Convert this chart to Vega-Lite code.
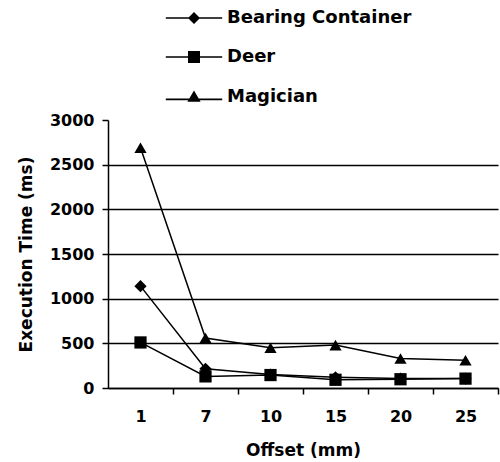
{
  "$schema": "https://vega.github.io/schema/vega-lite/v6.json",
  "width": 390,
  "height": 268,
  "autosize": {"type": "none"},
  "padding": {"left": 108, "top": 120, "right": 2, "bottom": 74},
  "background": "white",
  "config": {
    "view": {"stroke": null},
    "font": "DejaVu Sans",
    "axis": {
      "labelFont": "DejaVu Sans",
      "labelFontWeight": "bold",
      "labelFontSize": 16,
      "labelColor": "black",
      "titleFont": "DejaVu Sans",
      "titleFontWeight": "bold",
      "titleFontSize": 17,
      "titleColor": "black",
      "domainColor": "black",
      "domainWidth": 1.5,
      "tickColor": "black",
      "tickWidth": 1.5,
      "tickSize": 6
    }
  },
  "data": {
    "values": [
      {"offset": "1", "series": "Bearing Container", "time": 1140},
      {"offset": "7", "series": "Bearing Container", "time": 215},
      {"offset": "10", "series": "Bearing Container", "time": 150},
      {"offset": "15", "series": "Bearing Container", "time": 120},
      {"offset": "20", "series": "Bearing Container", "time": 105},
      {"offset": "25", "series": "Bearing Container", "time": 105},
      {"offset": "1", "series": "Deer", "time": 510},
      {"offset": "7", "series": "Deer", "time": 130},
      {"offset": "10", "series": "Deer", "time": 145},
      {"offset": "15", "series": "Deer", "time": 92},
      {"offset": "20", "series": "Deer", "time": 98},
      {"offset": "25", "series": "Deer", "time": 105},
      {"offset": "1", "series": "Magician", "time": 2690},
      {"offset": "7", "series": "Magician", "time": 560},
      {"offset": "10", "series": "Magician", "time": 450},
      {"offset": "15", "series": "Magician", "time": 480},
      {"offset": "20", "series": "Magician", "time": 330},
      {"offset": "25", "series": "Magician", "time": 310}
    ]
  },
  "encoding": {
    "x": {
      "field": "offset",
      "type": "ordinal",
      "sort": ["1", "7", "10", "15", "20", "25"],
      "scale": {"type": "point", "padding": 0.5},
      "title": "Offset (mm)",
      "axis": {
        "labelAngle": 0,
        "tickOffset": 32.5,
        "labelOffset": -32.5,
        "labelPadding": 14,
        "titlePadding": 18,
        "grid": false
      }
    },
    "y": {
      "field": "time",
      "type": "quantitative",
      "scale": {"domain": [0, 3000], "nice": false},
      "title": "Execution Time (ms)",
      "axis": {
        "values": [0, 500, 1000, 1500, 2000, 2500, 3000],
        "format": "d",
        "grid": true,
        "gridColor": "black",
        "gridWidth": 1.5,
        "gridOpacity": {"condition": {"test": "datum.value === 3000", "value": 0}, "value": 1},
        "labelPadding": 8,
        "titlePadding": 14
      }
    }
  },
  "layer": [
    {
      "mark": {"type": "line", "color": "black", "strokeWidth": 1.5},
      "encoding": {"detail": {"field": "series"}}
    },
    {
      "mark": {"type": "point", "filled": true, "color": "black", "opacity": 1, "size": 150},
      "encoding": {
        "shape": {
          "field": "series",
          "type": "nominal",
          "scale": {
            "domain": ["Bearing Container", "Deer", "Magician"],
            "range": ["diamond", "square", "triangle-up"]
          },
          "legend": null
        }
      }
    },
    {
      "transform": [{"filter": "false"}],
      "mark": {"type": "point", "filled": true, "color": "black", "opacity": 1, "size": 144},
      "encoding": {
        "shape": {
          "field": "series",
          "type": "nominal",
          "scale": {
            "domain": ["Bearing Container", "Deer", "Magician"],
            "range": [
              "M-4.7,-0.13L4.7,-0.13L4.7,0.13L-4.7,0.13ZM0,-1L1,0L0,1L-1,0Z",
              "M-4.7,-0.13L4.7,-0.13L4.7,0.13L-4.7,0.13ZM-1,-1L1,-1L1,1L-1,1Z",
              "M-4.7,0.27L4.7,0.27L4.7,0.53L-4.7,0.53ZM0,-1.1L1.1,0.8L-1.1,0.8Z"
            ]
          },
          "legend": {
            "orient": "none",
            "legendX": 77,
            "legendY": -111,
            "title": null,
            "padding": 0,
            "labelFont": "DejaVu Sans",
            "labelFontWeight": "bold",
            "labelFontSize": 18,
            "labelColor": "black",
            "labelOffset": 24,
            "symbolSize": 144,
            "symbolFillColor": "black",
            "symbolOpacity": 1,
            "rowPadding": 21,
            "labelLimit": 300
          }
        }
      }
    }
  ],
  "resolve": {"scale": {"shape": "independent"}}
}
